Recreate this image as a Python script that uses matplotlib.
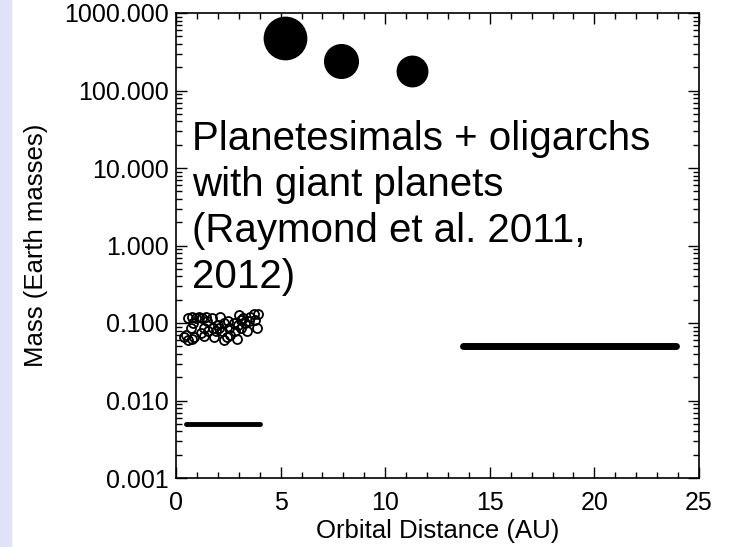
import matplotlib.pyplot as plt
from matplotlib.ticker import FixedLocator, FormatStrFormatter, LogLocator, MultipleLocator
from matplotlib.patches import Rectangle

# giant planets (AU, Earth masses)
giant_a = [5.2, 7.9, 11.3]
giant_m = [478.0, 240.0, 178.0]

# oligarchs
olig_a = [0.55, 0.75, 0.95, 1.1, 1.25, 1.45, 1.7, 2.1, 3.0, 3.2, 3.55, 3.75, 3.9, 3.1,
          0.8, 1.5, 2.0, 2.3, 2.5, 2.75, 2.95, 3.3, 3.5, 3.8,
          0.7, 1.35, 1.55, 1.75, 1.9, 2.05, 2.2, 2.55, 2.8, 3.1, 3.4, 3.85, 1.2,
          0.4, 0.55, 0.75, 0.85, 1.35, 1.8, 2.3, 2.45, 2.6, 2.9, 0.5]
olig_m = [0.115, 0.12, 0.115, 0.12, 0.115, 0.12, 0.115, 0.12, 0.125, 0.115, 0.12, 0.13, 0.13, 0.11,
          0.10, 0.105, 0.095, 0.10, 0.105, 0.10, 0.095, 0.10, 0.105, 0.11,
          0.085, 0.085, 0.08, 0.085, 0.08, 0.085, 0.08, 0.085, 0.08, 0.085, 0.08, 0.085, 0.075,
          0.065, 0.06, 0.062, 0.065, 0.068, 0.065, 0.06, 0.065, 0.07, 0.063, 0.07]

# planetesimal disks: inner and outer
inner_a = [0.5, 4.0]
inner_m = [0.005, 0.005]
outer_a = [13.7, 23.9]
outer_m = [0.05, 0.05]

xticks = [0, 5, 10, 15, 20, 25]
yticks = [0.001, 0.01, 0.1, 1, 10, 100, 1000]

plt.rcParams['font.family'] = ['Liberation Sans', 'DejaVu Sans']

fig = plt.figure(figsize=(7.29, 5.47), dpi=100)
fig.patches.append(Rectangle((0, 0), 11 / 729, 1, transform=fig.transFigure,
                             color='#e2e2f7', zorder=0))
ax = fig.add_axes([176 / 729, 1 - 478 / 547, (699 - 176) / 729, (478 - 13) / 547])

ax.plot(inner_a, inner_m, color='black', lw=3.5, solid_capstyle='round')
ax.plot(outer_a, outer_m, color='black', lw=5, solid_capstyle='round')
ax.plot(olig_a, olig_m, 'o', mfc='none', mec='black', ms=6.5, mew=1.3)
for a, m in zip(giant_a, giant_m):
    ax.plot(a, m, 'o', color='black', ms=3.9 * m ** (1 / 3))

ax.set_yscale('log')
ax.set_xlim(0, 25)
ax.set_ylim(0.001, 1000)
ax.xaxis.set_major_locator(FixedLocator(xticks))
ax.xaxis.set_minor_locator(MultipleLocator(1))
ax.yaxis.set_major_locator(FixedLocator(yticks))
ax.yaxis.set_minor_locator(LogLocator(base=10, subs=range(2, 10)))
ax.yaxis.set_major_formatter(FormatStrFormatter('%.3f'))
ax.tick_params(which='both', direction='in', top=True, right=True, width=1,
               labelsize=18)
ax.tick_params(axis='y', pad=5)
ax.tick_params(axis='x', pad=9)
ax.tick_params(which='major', length=8)
ax.tick_params(which='minor', length=4)
for s in ax.spines.values():
    s.set_linewidth(1.2)

ax.set_xlabel('Orbital Distance (AU)', fontsize=18.5, labelpad=3)
ax.set_ylabel('Mass (Earth masses)', fontsize=18.5, labelpad=12)

ax.text(0.03, 0.77, 'Planetesimals + oligarchs\nwith giant planets\n(Raymond et al. 2011,\n2012)',
        transform=ax.transAxes, fontsize=29, va='top', ha='left', linespacing=1.27)

fig.savefig('out.png', dpi=100)
